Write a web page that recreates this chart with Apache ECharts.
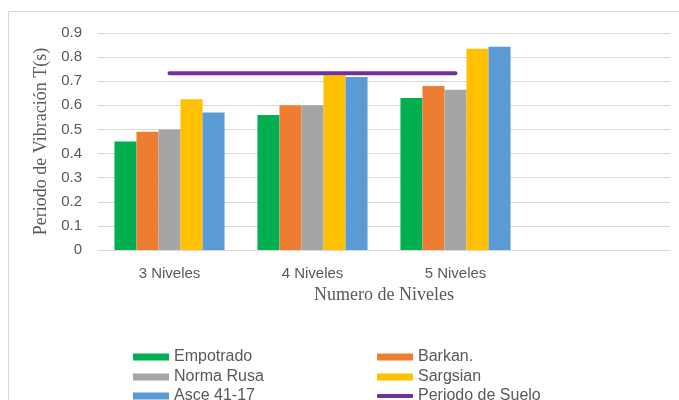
<!DOCTYPE html>
<html><head><meta charset="utf-8">
<script src="https://cdn.jsdelivr.net/npm/echarts@6/dist/echarts.min.js"></script>
<style>html,body{margin:0;padding:0;background:#fff}#c{width:679px;height:400px}</style>
</head><body><div id="c"></div>
<script>
const categories = ['3 Niveles', '4 Niveles', '5 Niveles', ''];
const empotrado = [0.45, 0.56, 0.63, null];
const barkan = [0.49, 0.60, 0.68, null];
const normaRusa = [0.50, 0.60, 0.665, null];
const sargsian = [0.625, 0.725, 0.835, null];
const asce = [0.57, 0.717, 0.843, null];
const periodoSuelo = [0.733, 0.733, 0.733, null];
const legendCol1 = ['Empotrado', 'Norma Rusa', 'Asce 41-17'];
const legendCol2 = ['Barkan.', 'Sargsian', 'Periodo de Suelo'];

const chart = echarts.init(document.getElementById('c'), null, {renderer: 'canvas'});
const sans = 'Liberation Sans';
const serif = 'Liberation Serif';
function bar(name, data, color) {
  return {name, type: 'bar', data, barGap: '0%', barCategoryGap: '23%',
    itemStyle: {color}, emphasis: {disabled: true}};
}
const rowTops = [349, 369, 388];
const legends = [];
[[legendCol1, 133], [legendCol2, 377]].forEach(([names, left]) => {
  names.forEach((n, i) => {
    const isLine = n === 'Periodo de Suelo';
    legends.push({left, top: rowTops[i], itemWidth: 36, itemHeight: isLine ? 4 : 7,
      icon: isLine ? 'roundRect' : 'rect', itemGap: 0, padding: 0,
      textStyle: {color: '#595959', fontFamily: sans, fontSize: 16, padding: [0, 0, 0, 0]},
      data: [n]});
  });
});
chart.setOption({
  animation: false,
  graphic: [{type: 'rect', shape: {x: 8.5, y: 11.5, width: 720, height: 440},
    style: {fill: 'none', stroke: '#d9d9d9', lineWidth: 1}, silent: true}],
  grid: {left: 98, right: 9, top: 33, bottom: 150},
  xAxis: {type: 'category', data: categories,
    axisLine: {lineStyle: {color: '#d9d9d9'}}, axisTick: {show: false},
    axisLabel: {color: '#595959', fontFamily: sans, fontSize: 15, margin: 16},
    name: 'Numero de Niveles', nameLocation: 'middle', nameGap: 29,
    nameTextStyle: {color: '#595959', fontFamily: serif, fontSize: 18}},
  yAxis: {type: 'value', min: 0, max: 0.9, interval: 0.1,
    axisLine: {show: false}, axisTick: {show: false},
    splitLine: {lineStyle: {color: '#d9d9d9', width: 1}},
    axisLabel: {color: '#595959', fontFamily: sans, fontSize: 15, margin: 16,
      formatter: v => String(Math.round(v * 10) / 10)},
    name: 'Periodo de Vibración T(s)', nameLocation: 'middle', nameGap: 44,
    nameTextStyle: {color: '#595959', fontFamily: serif, fontSize: 18}},
  legend: legends,
  series: [
    bar('Empotrado', empotrado, '#00b050'),
    bar('Barkan.', barkan, '#ed7d31'),
    bar('Norma Rusa', normaRusa, '#a5a5a5'),
    bar('Sargsian', sargsian, '#ffc000'),
    bar('Asce 41-17', asce, '#5b9bd5'),
    {name: 'Periodo de Suelo', type: 'line', data: periodoSuelo, symbol: 'none',
     lineStyle: {color: '#7030a0', width: 4, cap: 'round'}, itemStyle: {color: '#7030a0'},
     emphasis: {disabled: true}, z: 5}
  ]
});
</script></body></html>
